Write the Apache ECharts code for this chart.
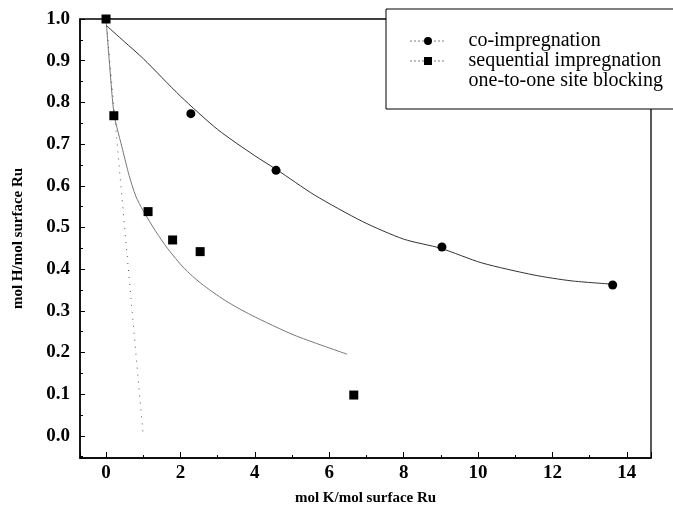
<!DOCTYPE html>
<html>
<head>
<meta charset="utf-8">
<script src="https://cdn.jsdelivr.net/npm/echarts@6/dist/echarts.min.js"></script>
<style>
  html, body { margin: 0; padding: 0; background: #fff; }
  #chart { width: 673px; height: 506px; }
</style>
</head>
<body>
<div id="chart"></div>
<script>
// Measured hydrogen uptake vs. potassium loading
const coK  = [2.28, 4.57, 9.03, 13.62];
const coH  = [0.773, 0.637, 0.453, 0.362];
const seqK = [0, 0.21, 1.13, 1.79, 2.53, 6.66];
const seqH = [1.0, 0.768, 0.538, 0.47, 0.442, 0.098];

// Fitted curves
const coFitK  = [0, 0.5, 1, 2, 3, 4, 4.6, 5.6, 6.9, 8, 9, 10.1, 11.5, 12.5, 13.6];
const coFitH  = [0.985, 0.945, 0.905, 0.815, 0.735, 0.672, 0.638, 0.578, 0.514, 0.472, 0.45, 0.415, 0.386, 0.372, 0.364];
const seqFitK = [0, 0.1, 0.22, 0.45, 0.62, 0.8, 1.0, 1.34, 1.65, 2.1, 2.55, 3.2, 3.9, 5.05, 6.48];
const seqFitH = [1.0, 0.885, 0.77, 0.685, 0.625, 0.575, 0.54, 0.49, 0.45, 0.402, 0.366, 0.325, 0.29, 0.242, 0.196];

// One potassium atom blocks one surface site
const blockK = [0, 1];
const blockH = [1, 0];

// Axis tick labels
const xLabels = [0, 2, 4, 6, 8, 10, 12, 14];
const yLabels = [0.0, 0.1, 0.2, 0.3, 0.4, 0.5, 0.6, 0.7, 0.8, 0.9, 1.0];

const zip = (a, b) => a.map((v, i) => [v, b[i]]);

const SERIF = "'Liberation Serif', 'DejaVu Serif', serif";
const X_MIN = -0.7, X_MAX = 14.65, Y_MIN = -0.053, Y_MAX = 1.0;

const chart = echarts.init(document.getElementById('chart'), null, { renderer: 'canvas' });

const tickLabel = { fontFamily: SERIF, fontWeight: 'bold', fontSize: 19, color: '#000' };
const axisName = { fontFamily: SERIF, fontWeight: 'bold', fontSize: 15, color: '#000' };

chart.setOption({
  animation: false,
  backgroundColor: '#fff',
  grid: {
    left: 80, right: 22, top: 19, bottom: 48,
    outerBoundsMode: 'none',
    show: true, borderColor: '#000', borderWidth: 1.3
  },
  legend: {
    orient: 'vertical',
    left: 386, top: 9,
    padding: [22, 60, 18, 24],
    itemWidth: 35, itemHeight: 10, itemGap: 0,
    borderColor: '#000', borderWidth: 1,
    backgroundColor: '#fff',
    selectedMode: false,
    textStyle: { fontFamily: SERIF, fontSize: 20, color: '#000', lineHeight: 18.5, padding: [0, 0, 0, 18] },
    data: [
      { name: 'co-impregnation', lineStyle: { type: [1, 3], width: 1, color: '#000' }, itemStyle: { color: '#000' } },
      { name: 'sequential impregnation', lineStyle: { type: [1, 3], width: 1, color: '#000' }, itemStyle: { color: '#000' } },
      { name: 'one-to-one site blocking', icon: 'none' }
    ]
  },
  xAxis: {
    type: 'value', min: X_MIN, max: X_MAX, splitNumber: 8, position: 'bottom',
    name: 'mol K/mol surface Ru', nameLocation: 'middle', nameGap: 33,
    nameTextStyle: axisName,
    axisLine: { show: true, onZero: false, lineStyle: { color: '#000', width: 1.5 } },
    axisTick: { show: true, inside: true, length: 6, lineStyle: { color: '#000', width: 1 } },
    minorTick: { show: true, splitNumber: 2, length: 3, lineStyle: { color: '#000', width: 1 } },
    axisLabel: { show: true, margin: 6, customValues: xLabels, formatter: v => String(v), ...tickLabel },
    splitLine: { show: false }
  },
  yAxis: {
    type: 'value', min: Y_MIN, max: Y_MAX, splitNumber: 10, position: 'left',
    name: 'mol H/mol surface Ru', nameLocation: 'middle', nameGap: 54, nameRotate: 90,
    nameTextStyle: axisName,
    axisLine: { show: true, onZero: false, lineStyle: { color: '#000', width: 1.5 } },
    axisTick: { show: true, inside: true, length: 5, lineStyle: { color: '#000', width: 1 } },
    minorTick: { show: true, splitNumber: 2, length: 3, lineStyle: { color: '#000', width: 1 } },
    axisLabel: { show: true, margin: 10, customValues: yLabels, formatter: v => v.toFixed(1), ...tickLabel },
    splitLine: { show: false }
  },
  series: [
    {
      name: 'co-impregnation', type: 'line', data: zip(coFitK, coFitH),
      smooth: 0.25,
      symbol: 'circle', showSymbol: false,
      itemStyle: { color: '#000' },
      lineStyle: { color: '#333', width: 1 },
      silent: true, z: 2
    },
    {
      name: 'co-impregnation', type: 'scatter', data: zip(coK, coH),
      symbol: 'circle', symbolSize: 9,
      itemStyle: { color: '#000', opacity: 1 }, clip: false, z: 4
    },
    {
      name: 'sequential impregnation', type: 'line', data: zip(seqFitK, seqFitH),
      smooth: 0.25,
      symbol: 'rect', showSymbol: false,
      itemStyle: { color: '#000' },
      lineStyle: { color: '#777', width: 1 },
      silent: true, z: 2
    },
    {
      name: 'sequential impregnation', type: 'scatter', data: zip(seqK, seqH),
      symbol: 'rect', symbolSize: 9,
      itemStyle: { color: '#000', opacity: 1 }, clip: false, z: 4
    },
    {
      name: 'one-to-one site blocking', type: 'line', data: zip(blockK, blockH),
      symbol: 'none',
      lineStyle: { color: '#555', width: 1, type: [1, 6] },
      silent: true, z: 2
    }
  ]
});
</script>
</body>
</html>
